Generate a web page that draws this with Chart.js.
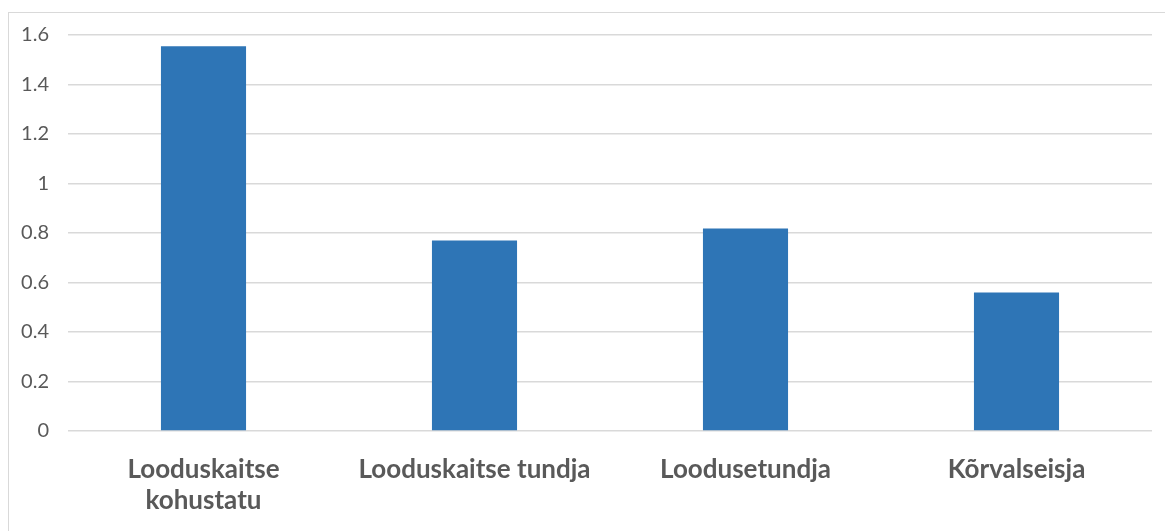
<!DOCTYPE html>
<html>
<head>
<meta charset="utf-8">
<script src="https://cdn.jsdelivr.net/npm/chart.js@4"></script>
<style>
	html, body { margin: 0; padding: 0; background: #fff; }
	#wrap { position: relative; width: 1165px; height: 531px; overflow: hidden; }
	#frame { position: absolute; left: 8px; top: 12px; width: 1200px; height: 600px; border: 1px solid #d9d9d9; }
	canvas { position: absolute; left: 0; top: 0; }
</style>
</head>
<body>
<div id="wrap">
	<div id="frame"></div>
	<canvas id="chart" width="1165" height="531"></canvas>
</div>
<script>
"use strict"

const categories = [["Looduskaitse", "kohustatu"], "Looduskaitse tundja", "Loodusetundja", "Kõrvalseisja"]
const values = [1.555, 0.77, 0.818, 0.56]
const yTicks = [0, 0.2, 0.4, 0.6, 0.8, 1, 1.2, 1.4, 1.6]

let ctx = document.getElementById("chart").getContext("2d")

let chart = new Chart(ctx, {
	type: "bar",
	data: {
		labels: categories,
		datasets: [
			{
				data: values,
				backgroundColor: "#2e75b6",
				barPercentage: 0.314,
				categoryPercentage: 1,
			},
		],
	},
	options: {
		responsive: false,
		animation: false,
		layout: {
			padding: { left: 0, right: 13, top: 35, bottom: 0 },
		},
		plugins: {
			legend: { display: false },
			tooltip: { enabled: false },
		},
		scales: {
			x: {
				grid: { display: false },
				border: { display: false },
				ticks: {
					color: "#595959",
					padding: 15,
					maxRotation: 0,
					autoSkip: false,
					font: { family: "Lato", size: 26, weight: "bold", lineHeight: 1.2 },
				},
				afterFit: (scale) => { scale.height = 100 },
			},
			y: {
				min: 0,
				max: 1.6,
				afterBuildTicks: (scale) => {
					scale.ticks = yTicks.map((v) => ({ value: v }))
				},
				grid: { color: "#d9d9d9", lineWidth: 1.5, drawTicks: false },
				border: { display: false },
				ticks: {
					color: "#595959",
					padding: 19,
					font: { family: "Lato", size: 20 },
					callback: (v) => String(v),
				},
				afterFit: (scale) => { scale.width = 68 },
			},
		},
	},
})
</script>
</body>
</html>
